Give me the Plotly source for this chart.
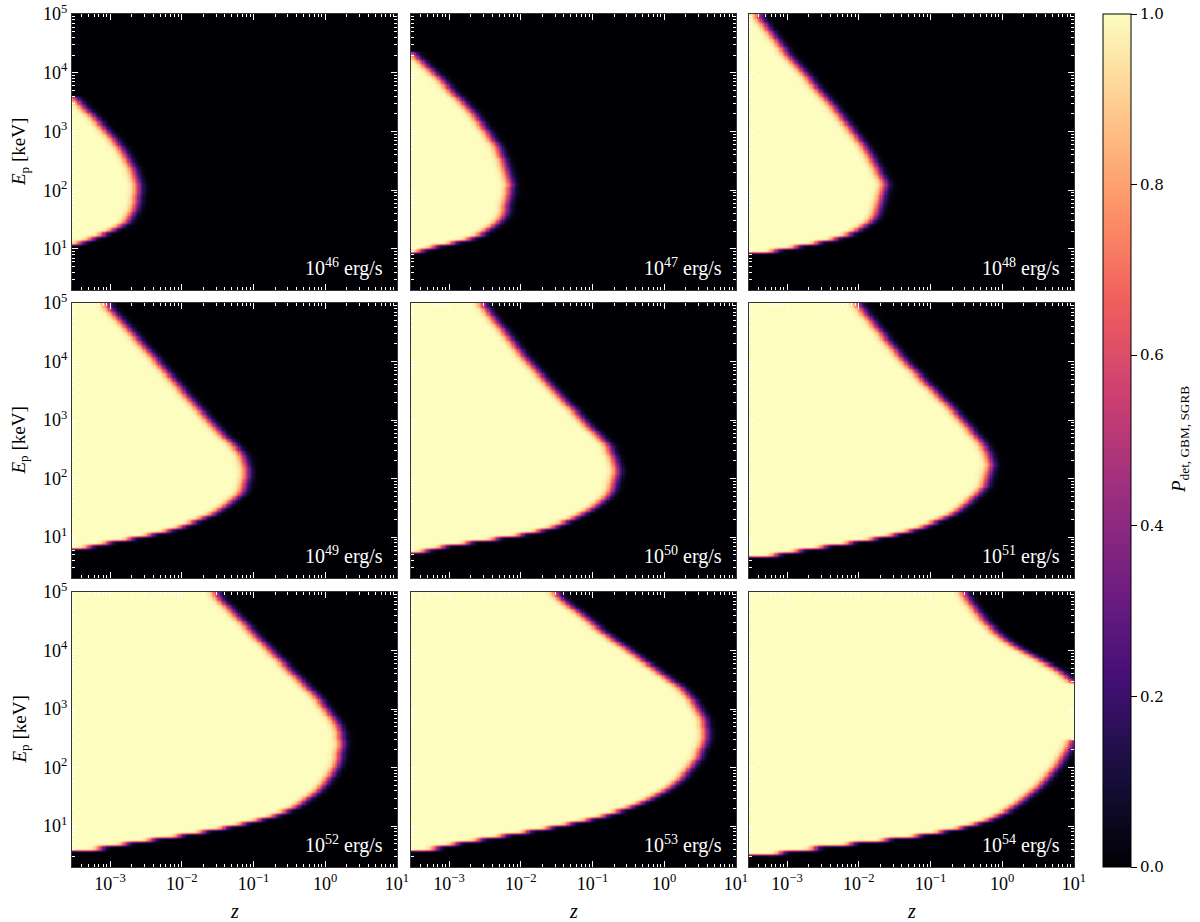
import numpy as np
import plotly.graph_objects as go

# ---------------- data ----------------
# Luminosity exponents of the 9 panels (erg/s)
LUM_EXP = [46, 47, 48, 49, 50, 51, 52, 53, 54]

# Detection-boundary curve of each panel: log10(Ep/keV) and log10(z) where P_det ~ 0.5
LOG_EP_46 = [3.59, 3.14, 2.73, 2.39, 2.05, 1.71, 1.44, 1.27, 1.15, 1.10]
LOG_Z_46 = [-3.52, -3.14, -2.86, -2.68, -2.60, -2.63, -2.76, -3.00, -3.32, -3.52]

LOG_EP_47 = [4.34, 3.86, 3.23, 2.72, 2.09, 1.52, 1.18, 1.07, 0.96]
LOG_Z_47 = [-3.52, -3.09, -2.61, -2.31, -2.13, -2.24, -2.61, -3.09, -3.52]

LOG_EP_48 = [5.00, 4.32, 3.46, 2.72, 2.09, 1.52, 1.24, 1.07, 0.98, 0.90]
LOG_Z_48 = [-3.42, -3.00, -2.38, -1.90, -1.62, -1.77, -2.08, -2.69, -3.11, -3.51]

LOG_EP_49 = [5.00, 4.02, 2.99, 2.42, 2.14, 1.74, 1.40, 1.17, 0.97, 0.88, 0.77]
LOG_Z_49 = [-3.07, -2.35, -1.62, -1.16, -1.07, -1.16, -1.52, -1.98, -2.62, -3.17, -3.51]

LOG_EP_50 = [5.00, 4.02, 3.06, 2.55, 2.14, 1.74, 1.40, 1.11, 0.97, 0.86, 0.72]
LOG_Z_50 = [-2.55, -1.91, -1.18, -0.77, -0.64, -0.73, -1.09, -1.64, -2.27, -3.00, -3.50]

LOG_EP_51 = [5.00, 4.02, 3.12, 2.61, 2.27, 1.87, 1.40, 1.12, 0.92, 0.81, 0.69, 0.66]
LOG_Z_51 = [-2.03, -1.37, -0.64, -0.28, -0.14, -0.23, -0.64, -1.19, -1.92, -2.65, -3.02, -3.51]

LOG_EP_52 = [5.00, 4.06, 3.20, 2.76, 2.42, 2.01, 1.62, 1.27, 1.10, 0.93, 0.79, 0.67, 0.56]
LOG_Z_52 = [-1.56, -0.81, -0.11, 0.17, 0.24, 0.17, -0.07, -0.45, -0.91, -1.51, -2.20, -2.90, -3.46]

LOG_EP_53 = [5.00, 4.35, 3.75, 3.32, 2.90, 2.56, 2.13, 1.70, 1.36, 1.10, 0.90, 0.73, 0.56]
LOG_Z_53 = [-1.55, -0.89, -0.20, 0.29, 0.54, 0.60, 0.47, 0.15, -0.34, -1.03, -1.87, -2.71, -3.47]

LOG_EP_54 = [5.00, 4.47, 4.13, 3.85, 3.63, 3.46, 3.10, 2.80, 2.50, 2.10, 1.65, 1.26, 1.03,
             0.92, 0.83, 0.78, 0.68, 0.59, 0.50]
LOG_Z_54 = [-0.55, -0.23, 0.095, 0.51, 0.83, 1.00, 1.10, 1.10, 1.00, 0.83, 0.51, 0.095, -0.32,
            -0.73, -1.06, -1.42, -2.12, -2.82, -3.50]

PANELS = [(LOG_EP_46, LOG_Z_46), (LOG_EP_47, LOG_Z_47), (LOG_EP_48, LOG_Z_48),
          (LOG_EP_49, LOG_Z_49), (LOG_EP_50, LOG_Z_50), (LOG_EP_51, LOG_Z_51),
          (LOG_EP_52, LOG_Z_52), (LOG_EP_53, LOG_Z_53), (LOG_EP_54, LOG_Z_54)]

X_TICKS = [1e-3, 1e-2, 1e-1, 1e0, 1e1]
X_TICKTEXT = ["10<sup>−3</sup>", "10<sup>−2</sup>", "10<sup>−1</sup>", "10<sup>0</sup>", "10<sup>1</sup>"]
Y_TICKS = [1e1, 1e2, 1e3, 1e4, 1e5]
Y_TICKTEXT = ["10<sup>1</sup>", "10<sup>2</sup>", "10<sup>3</sup>", "10<sup>4</sup>", "10<sup>5</sup>"]
CB_TICKS = [0.0, 0.2, 0.4, 0.6, 0.8, 1.0]

# ---------------- layout geometry (page pixels) ----------------
W, H = 1200, 922


def fx(px):
    return px / W


def fy(py):
    return 1 - py / H


COL_X = [(72, 397), (411, 736), (749, 1074)]
ROW_Y = [(14, 290), (303, 578), (592, 867)]
LOGZ_RANGE = [-3.53, 1.0]
LOGE_RANGE = [0.301, 5.0]

NX, NY = 260, 276
lx_edges = np.linspace(LOGZ_RANGE[0], LOGZ_RANGE[1], NX + 1)
ly_edges = np.linspace(LOGE_RANGE[0], LOGE_RANGE[1], NY + 1)
lx_c = 0.5 * (lx_edges[1:] + lx_edges[:-1])
ly_c = 0.5 * (ly_edges[1:] + ly_edges[:-1])
QSTEP = 0.07
ly_q = LOGE_RANGE[0] + (np.floor((ly_c - LOGE_RANGE[0]) / QSTEP) + 0.5) * QSTEP
ly_q = np.clip(ly_q, LOGE_RANGE[0], LOGE_RANGE[1])


def gauss_kernel(sig):
    r = int(np.ceil(3 * sig))
    t = np.arange(-r, r + 1)
    k = np.exp(-0.5 * (t / sig) ** 2)
    return k / k.sum(), r


def smooth1d(v, sig):
    k, r = gauss_kernel(sig)
    p = np.pad(v, (r, r), mode="edge")
    return np.convolve(p, k, mode="valid")


def blur(a, sx, sy):
    a = np.apply_along_axis(lambda v: smooth1d(v, sx), 1, a)
    a = np.apply_along_axis(lambda v: smooth1d(v, sy), 0, a)
    return a


def minor_vals(lo, hi):
    out = []
    for k in range(int(np.floor(lo)) - 1, int(np.ceil(hi)) + 1):
        for m in range(2, 10):
            v = m * 10.0 ** k
            if 10 ** lo <= v <= 10 ** hi:
                out.append(v)
    return out


fig = go.Figure()
tick_font = dict(family="Liberation Serif", size=18, color="black")
dly = ly_c[1] - ly_c[0]

for i, (lep, lz) in enumerate(PANELS):
    r, c = divmod(i, 3)
    n = i + 1
    order = np.argsort(lep)
    ep_s = np.array(lep)[order]
    z_s = np.array(lz)[order]
    fine = np.interp(ly_c, ep_s, z_s)
    fine = smooth1d(fine, 0.07 / dly)
    b = np.interp(ly_q, ly_c, fine)
    lo_lim = ep_s[0]
    hi_lim = ep_s[-1] if ep_s[-1] < LOGE_RANGE[1] - 1e-6 else 99.0
    b[(ly_q < lo_lim) | (ly_q > hi_lim)] = -9
    mask = (lx_c[None, :] < b[:, None]).astype(float)
    cell_x = (COL_X[c][1] - COL_X[c][0]) / NX
    cell_y = (ROW_Y[r][1] - ROW_Y[r][0]) / NY
    P = blur(mask, 5.0 / cell_x, 1.0 / cell_y)
    fig.add_trace(go.Heatmap(
        x=10 ** lx_edges, y=10 ** ly_edges, z=np.round(P, 3),
        coloraxis="coloraxis", zsmooth=False, hoverinfo="skip",
        xaxis="x" if n == 1 else f"x{n}", yaxis="y" if n == 1 else f"y{n}",
    ))

    x0, x1 = COL_X[c]
    y0, y1 = ROW_Y[r]
    xa = dict(
        type="log", domain=[fx(x0), fx(x1)], range=LOGZ_RANGE,
        anchor="y" if n == 1 else f"y{n}", automargin=False,
        tickmode="array", tickvals=X_TICKS, ticktext=X_TICKTEXT,
        showticklabels=(r == 2), tickfont=tick_font, ticklabeloverflow="allow",
        ticks="inside", ticklen=6, tickwidth=1, tickcolor="white",
        minor=dict(tickmode="array", tickvals=minor_vals(*LOGZ_RANGE), ticks="inside",
                   ticklen=3, tickwidth=1, tickcolor="white", showgrid=False),
        showline=True, linecolor="#333333", linewidth=1, mirror="allticks",
        showgrid=False, zeroline=False, fixedrange=True,
    )
    ya = dict(
        type="log", domain=[fy(y1), fy(y0)], range=LOGE_RANGE,
        anchor="x" if n == 1 else f"x{n}", automargin=False,
        tickmode="array", tickvals=Y_TICKS, ticktext=Y_TICKTEXT,
        showticklabels=(c == 0), tickfont=tick_font, ticklabeloverflow="allow",
        ticks="inside", ticklen=6, tickwidth=1, tickcolor="white",
        minor=dict(tickmode="array", tickvals=minor_vals(*LOGE_RANGE), ticks="inside",
                   ticklen=3, tickwidth=1, tickcolor="white", showgrid=False),
        showline=True, linecolor="#333333", linewidth=1, mirror="allticks",
        showgrid=False, zeroline=False, fixedrange=True,
    )
    fig.layout["xaxis" if n == 1 else f"xaxis{n}"] = xa
    fig.layout["yaxis" if n == 1 else f"yaxis{n}"] = ya

    fig.add_annotation(
        xref="paper", yref="paper", x=fx(x1 - 12), y=fy(y1 - 8),
        xanchor="right", yanchor="bottom", showarrow=False,
        text=f"10<sup>{LUM_EXP[i]}</sup> erg/s",
        font=dict(family="Liberation Serif", size=20, color="white"),
    )

# axis labels
for r in range(3):
    y0, y1 = ROW_Y[r]
    fig.add_annotation(
        xref="paper", yref="paper", x=fx(20), y=fy(0.5 * (y0 + y1)),
        xanchor="center", yanchor="middle", textangle=-90, showarrow=False,
        text="<i>E</i><sub>p</sub> [keV]",
        font=dict(family="Liberation Serif", size=19, color="black"),
    )
for c in range(3):
    x0, x1 = COL_X[c]
    fig.add_annotation(
        xref="paper", yref="paper", x=fx(0.5 * (x0 + x1)), y=fy(911),
        xanchor="center", yanchor="middle", showarrow=False,
        text="<i>z</i>",
        font=dict(family="Liberation Serif", size=20, color="black"),
    )

# colorbar title
fig.add_annotation(
    xref="paper", yref="paper", x=fx(1180), y=fy(440),
    xanchor="center", yanchor="middle", textangle=-90, showarrow=False,
    text="<i>P</i><sub>det, GBM, SGRB</sub>",
    font=dict(family="Liberation Serif", size=19, color="black"),
)

fig.update_layout(
    width=W, height=H, margin=dict(l=0, r=0, t=0, b=0, autoexpand=False),
    paper_bgcolor="white", plot_bgcolor="black", showlegend=False,
    coloraxis=dict(
        colorscale="Magma", cmin=0, cmax=1,
        colorbar=dict(
            x=fx(1103), xanchor="left", y=fy(14), yanchor="top",
            len=(867 - 14) / H, lenmode="fraction", thickness=28, thicknessmode="pixels",
            outlinewidth=1, outlinecolor="black", xpad=0, ypad=0,
            tickmode="array", tickvals=CB_TICKS, ticktext=[f"{v:.1f}" for v in CB_TICKS],
            ticks="outside", ticklen=6, tickwidth=1, tickcolor="black",
            ticklabeloverflow="allow",
            tickfont=dict(family="DejaVu Serif", size=15, color="black"),
        ),
    ),
)

fig.write_html(
    "out.html",
    config={"displayModeBar": False, "staticPlot": True},
    post_script="document.body.style.margin='0px';document.body.style.overflow='hidden';",
)
